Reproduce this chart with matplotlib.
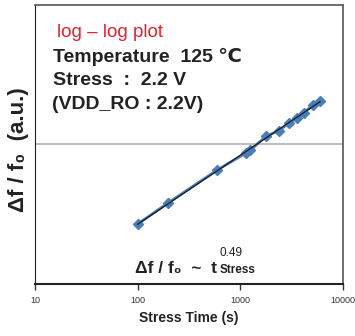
import numpy as np
import matplotlib
matplotlib.use("Agg")
import matplotlib.pyplot as plt

plt.rcParams['font.family'] = ['Liberation Sans', 'DejaVu Sans']

# stress time (s) and normalised frequency shift (a.u.)
stress_time = [100, 200, 600, 1150, 1250, 1800, 2400, 3000, 3600, 4200, 5100, 6000]
delta_f = [0.0268, 0.0382, 0.0656, 0.0870, 0.0905, 0.1148, 0.1253, 0.1428, 0.1545, 0.168, 0.192, 0.2056]
x_ticks = [10, 100, 1000, 10000]
x_tick_labels = ['10', '100', '1000', '10000']

fig = plt.figure(figsize=(3.55, 3.36), dpi=100)
ax = fig.add_axes([0.0986, 0.155, 0.867, 0.831])

ax.set_xscale('log')
ax.set_yscale('log')
ax.set_xlim(10, 10000)
ax.set_ylim(0.01, 1)

# gray reference line at the middle decade
ax.axhline(0.1, color='#bdbdbd', lw=1.4, zorder=1)

ax.plot(stress_time, delta_f, color='#4a7ebb', lw=2, marker='D', ms=5,
        mec='#4a7ebb', mfc='#4a7ebb', zorder=2)

# power-law fit
k, b = np.polyfit(np.log10(stress_time), np.log10(delta_f), 1)
tt = np.array([stress_time[0], stress_time[-1]])
ax.plot(tt, 10 ** (b + k * np.log10(tt)), color='#1a1a1a', lw=0.9, zorder=3)

ax.set_xticks(x_ticks)
ax.set_xticklabels(x_tick_labels)
ax.xaxis.set_minor_locator(matplotlib.ticker.NullLocator())
ax.yaxis.set_major_locator(matplotlib.ticker.NullLocator())
ax.yaxis.set_minor_locator(matplotlib.ticker.NullLocator())
ax.tick_params(axis='x', direction='out', length=4, width=1, labelsize=6.5,
               pad=5, colors='#333333')

for s in ['top', 'right']:
    ax.spines[s].set_color('#555555')
    ax.spines[s].set_linewidth(1.2)
ax.spines['left'].set_color('#222222')
ax.spines['bottom'].set_color('#222222')
ax.spines['bottom'].set_linewidth(1.5)

ax.set_xlabel('Stress Time (s)', fontsize=10, fontweight='bold', labelpad=4,
              color='#222222')
ax.set_ylabel('Δf / f₀  (a.u.)', fontsize=16, fontweight='bold',
              color='#222222', va='center')
ax.yaxis.set_label_coords(-0.052, 0.48)

ax.text(0.072, 0.902, 'log – log plot', transform=ax.transAxes, color='#e8202a',
        fontsize=13.5, va='center')
ax.text(0.058, 0.813, 'Temperature  125 ℃', transform=ax.transAxes,
        fontsize=14, fontweight='bold', va='center', color='#222222')
ax.text(0.058, 0.730, 'Stress  :  2.2 V', transform=ax.transAxes,
        fontsize=14, fontweight='bold', va='center', color='#222222')
ax.text(0.055, 0.644, '(VDD_RO : 2.2V)', transform=ax.transAxes,
        fontsize=14, fontweight='bold', va='center', color='#222222')

# power-law annotation: main part, then exponent and subscript after it
main = ax.text(0.325, 0.039, 'Δf / f₀  ~  t', transform=ax.transAxes,
               fontsize=12.5, fontweight='bold', va='baseline', color='#222222')
fig.canvas.draw()
bb = main.get_window_extent()
x_end = ax.transAxes.inverted().transform((bb.x1, 0))[0] + 0.009
ax.text(x_end, 0.1, '0.49', transform=ax.transAxes, fontsize=8.5,
        va='baseline', color='#222222')
ax.text(x_end, 0.039, 'Stress', transform=ax.transAxes, fontsize=8.5,
        fontweight='bold', va='baseline', color='#222222')

fig.savefig('out.png', dpi=100)
